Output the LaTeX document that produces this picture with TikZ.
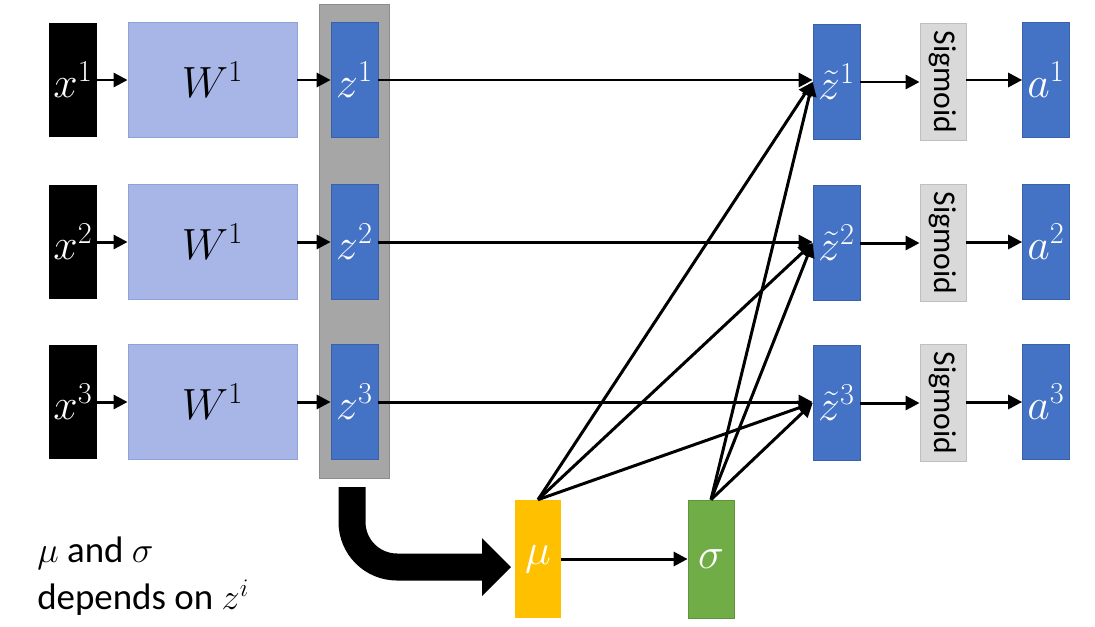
\documentclass[tikz,border=0pt]{standalone}
\usepackage{fontspec}
\setmainfont{Carlito}
\usetikzlibrary{arrows.meta}
\definecolor{wfill}{HTML}{A7B6E6}
\definecolor{wdraw}{HTML}{8EA2DA}
\definecolor{zblue}{HTML}{4472C4}
\definecolor{colgray}{HTML}{A6A6A6}
\definecolor{colgrayd}{HTML}{8C8C8C}
\definecolor{sigfill}{HTML}{D9D9D9}
\definecolor{sigdraw}{HTML}{BFBFBF}
\definecolor{mufill}{HTML}{FFC000}
\definecolor{sgfill}{HTML}{70AD47}
\tikzset{
  mathtxt/.style={font=\fontsize{24}{28}\selectfont},
  xbox/.style={fill=black, text=white, minimum width=0.96cm, minimum height=2.3cm, inner sep=0pt, mathtxt},
  wbox/.style={fill=wfill, draw=wdraw, line width=0.5pt, minimum width=3.38cm, minimum height=2.3cm, inner sep=0pt, mathtxt},
  zbox/.style={fill=zblue, draw=zblue!85!black, line width=0.4pt, text=white, minimum width=0.94cm, minimum height=2.3cm, inner sep=0pt, mathtxt},
  sigbox/.style={fill=sigfill, draw=sigdraw, line width=0.5pt, minimum width=0.92cm, minimum height=2.34cm, inner sep=0pt, font=\fontsize{18}{20}\selectfont},
  mubox/.style={fill=mufill, text=white, minimum width=0.92cm, minimum height=2.36cm, inner sep=0pt, mathtxt},
  sgbox/.style={fill=sgfill, draw=sgfill!85!black, line width=0.4pt, text=white, minimum width=0.92cm, minimum height=2.36cm, inner sep=0pt, mathtxt},
  arr/.style={-{Triangle[length=8pt,width=8pt]}, line width=1.7pt},
}
\begin{document}
\begin{tikzpicture}[x=0.02cm, y=-0.02cm]
\useasboundingbox[fill=white] (0,0) rectangle (1095,626);
% gray column
\node[fill=colgray, draw=colgrayd, line width=0.5pt, minimum width=1.4cm, minimum height=9.48cm, inner sep=0pt] (col) at (354,241) {};
% rows
\foreach \i/\y/\yt in {1/80/82, 2/242/243, 3/402/403} {
  \node[xbox] (x\i) at (73,\y) {$x^{\i}$};
  \node[wbox] (w\i) at (212.5,\y) {$W^{1}$};
  \node[zbox] (z\i) at (354.5,\y) {$z^{\i}$};
  \node[zbox] (zt\i) at (836.5,\yt) {$\tilde{z}^{\i}$};
  \node[sigbox] (s\i) at (943,\yt) {\rotatebox{-90}{Sigmoid}};
  \node[zbox] (a\i) at (1046,\y) {$a^{\i}$};
  \draw[arr] (x\i) -- (w\i);
  \draw[arr] (w\i) -- (z\i);
  \draw[arr] (z\i.east) -- (z\i.east -| zt\i.west);
  \draw[arr] (zt\i) -- (s\i);
  \draw[arr] (s\i.east |- a\i) -- (a\i);
}
\node[mubox] (mu) at (538,559) {$\mu$};
\node[sgbox] (sg) at (711,559) {$\sigma$};
\draw[arr] (mu) -- (sg);
\foreach \i in {1,2,3} {
  \draw[arr] (mu.north) -- (zt\i.west);
  \draw[arr] (sg.north) -- (zt\i.west);
}
% big arrow
\coordinate (bs) at (352,487);
\coordinate (be) at (484,567);
\draw[line width=0.6cm*0.9, rounded corners=0.9cm] (bs) |- (be);
\fill (482,538) -- (511,567) -- (482,596) -- cycle;
% text
\node[anchor=north west, align=left, inner sep=0pt, font=\fontsize{21}{26.5}\selectfont] (txt) at (37,537) {$\mu$ and $\sigma$\\depends on $z^{i}$};
\end{tikzpicture}
\end{document}
